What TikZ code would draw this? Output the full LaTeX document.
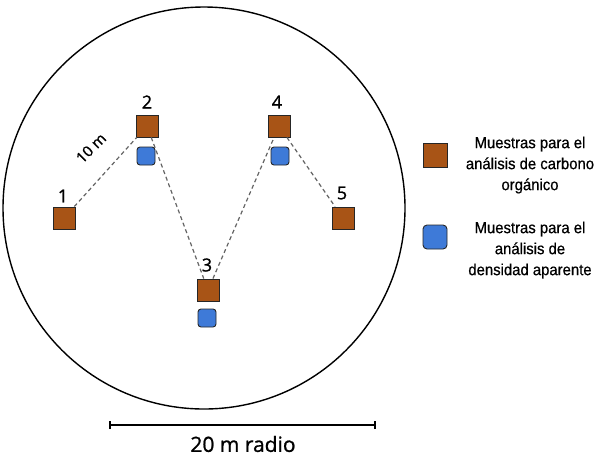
\documentclass[tikz,border=0pt]{standalone}
\usepackage{fontspec}
\setmainfont{Open Sans}
\newfontfamily\legfont[FakeStretch=0.93,FakeBold=0.6]{Liberation Sans}
\newfontfamily\numfont[FakeBold=1]{Open Sans}
\definecolor{soilbrown}{RGB}{168,84,22}
\definecolor{densblue}{RGB}{62,122,216}
\definecolor{dashgray}{RGB}{100,100,100}
\begin{document}
\begin{tikzpicture}[x=1pt,y=-1pt,
  carbbox/.style={draw=black!85,line width=0.9pt,fill=soilbrown,minimum size=22pt,inner sep=0pt},
  densbox/.style={draw=black!85,line width=0.9pt,fill=densblue,rounded corners=3pt,minimum size=18pt,inner sep=0pt},
  numlabel/.style={font=\numfont\fontsize{18}{20}\selectfont,inner sep=0pt},
  path12/.style={draw=dashgray,line width=1.2pt,dash pattern=on 4pt off 3pt},
  legtext/.style={font=\legfont\fontsize{16}{21}\selectfont,align=center,inner sep=0pt}]
\useasboundingbox (0,0) rectangle (601,456);
% plot circle
\node[draw=black,line width=1.4pt,circle,minimum size=402pt,inner sep=0pt] (plot) at (204,208) {};
% sample squares
\node[carbbox] (s1) at (64,218) {};
\node[carbbox] (s2) at (147,126) {};
\node[carbbox] (s3) at (208,290) {};
\node[carbbox] (s4) at (279,126) {};
\node[carbbox] (s5) at (343,218) {};
\node[densbox] (d2) at (146,156) {};
\node[densbox] (d3) at (207,318) {};
\node[densbox] (d4) at (280,156) {};
% numbers
\node[numlabel] (n1) at (63,196) {1};
\node[numlabel] (n2) at (147,102) {2};
\node[numlabel] (n3) at (207,265) {3};
\node[numlabel] (n4) at (277,102) {4};
\node[numlabel] (n5) at (342,193) {5};
% dashed path
\draw[path12] (s1) -- (s2);
\draw[path12] (s2) -- (s3);
\draw[path12] (s3) -- (s4);
\draw[path12] (s4) -- (s5);
\node[font=\numfont\fontsize{15}{16}\selectfont,rotate=45,inner sep=0pt] (dist) at (91,148) {10 m};
% legend
\node[carbbox,minimum size=24pt] (lc) at (435,155) {};
\node[densbox,minimum size=24pt,rounded corners=4pt] (ld) at (435,237) {};
\node[legtext] (lct) at (530,165) {Muestras para el\\análisis de carbono\\orgánico};
\node[legtext] (ldt) at (530,250) {Muestras para el\\análisis de\\densidad aparente};
% scale bar
\coordinate (sbl) at (110,425);
\coordinate (sbr) at (375,425);
\draw[line width=1.2pt] (sbl) -- (sbr);
\draw[line width=1.2pt] ([yshift=-4pt]sbl) -- ([yshift=4pt]sbl);
\draw[line width=1.2pt] ([yshift=-4pt]sbr) -- ([yshift=4pt]sbr);
\node[font=\numfont\fontsize{21}{24}\selectfont,inner sep=0pt] (sbt) at (243,444) {20 m radio};
\end{tikzpicture}
\end{document}
